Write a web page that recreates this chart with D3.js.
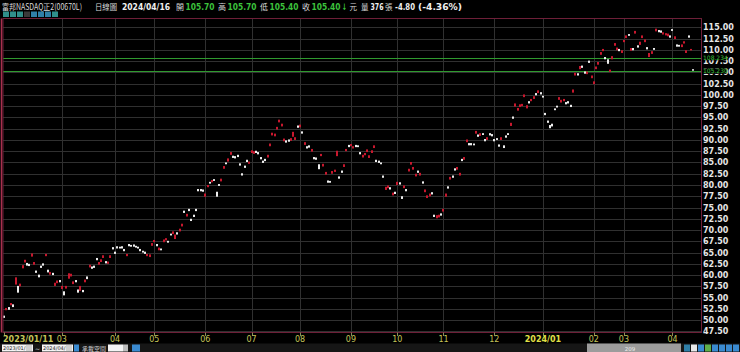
<!DOCTYPE html>
<html>
<head>
<meta charset="utf-8">
<script src="https://cdn.jsdelivr.net/npm/d3@7"></script>
<style>
html, body { margin: 0; padding: 0; background: #000; overflow: hidden; }
svg { display: block; }
</style>
</head>
<body>
<svg id="chart" width="740" height="352"></svg>
<script>
// daily candles 2023/01/11 .. 2024/04/16
var opens = [
  51.0,52.2,52.9,53.3,53.5,57.9,57.6,57.5,61.5,62.8,
  62.7,62.5,64.1,62.3,61.0,60.1,62.1,62.6,64.2,61.2,
  60.1,60.5,57.6,58.2,58.9,56.9,56.4,57.0,59.2,59.7,
  58.0,58.9,56.8,56.5,56.7,58.4,59.7,61.7,61.9,62.1,
  63.8,62.3,62.9,63.8,63.1,62.5,63.8,66.2,65.2,66.4,
  66.3,66.4,65.8,64.2,66.9,66.7,66.8,66.5,66.3,65.8,
  65.4,65.2,64.2,64.0,66.5,67.3,66.9,65.5,65.9,67.3,
  67.7,67.6,69.2,69.1,68.0,69.5,69.7,70.8,74.3,73.0,
  74.7,72.5,73.4,74.7,79.1,79.1,79.0,77.4,79.5,80.7,
  80.6,81.3,78.5,80.2,80.8,83.6,85.0,85.2,86.7,86.5,
  86.4,86.7,84.8,82.6,84.3,85.6,84.7,87.1,86.9,87.6,
  87.3,86.2,85.4,85.8,86.1,88.6,91.0,90.8,92.3,93.9,
  93.0,89.7,89.9,90.1,89.8,90.7,90.0,93.2,92.8,91.9,
  88.9,88.6,88.8,87.4,86.2,86.1,84.6,86.4,84.1,82.3,
  81.0,80.9,82.5,82.9,86.4,81.9,83.2,84.0,87.5,88.9,
  88.6,88.1,88.9,88.8,87.3,86.1,86.6,87.3,86.0,87.1,
  88.2,85.6,85.4,85.0,82.1,78.9,79.3,79.5,77.7,78.5,
  80.0,80.6,77.5,79.3,79.1,83.0,84.5,83.4,81.9,83.2,
  82.1,80.8,78.4,77.1,77.5,78.4,73.4,72.6,72.8,73.7,
  74.1,77.4,79.7,81.2,82.1,83.7,83.4,82.1,85.8,85.6,
  89.5,89.3,89.3,89.2,91.4,91.2,90.9,91.5,90.2,90.0,
  91.5,91.3,90.2,90.4,89.0,90.0,88.8,91.0,91.5,93.1,
  95.2,97.4,96.5,97.3,97.5,99.5,97.0,98.6,98.6,99.1,
  100.4,100.4,100.6,99.8,96.0,94.3,93.3,93.6,97.0,97.6,
  98.9,98.3,98.6,98.4,98.6,97.8,100.5,104.3,104.8,105.7,
  106.5,105.2,104.6,107.6,103.7,102.4,105.7,106.7,108.9,109.7,
  108.4,107.9,105.1,107.9,110.9,109.9,110.2,109.3,111.7,112.6,
  113.5,109.8,110.4,113.6,111.0,111.1,112.6,111.7,110.6,108.4,
  109.1,110.4,114.1,114.4,114.3,113.4,113.2,113.0,113.2,114.6,
  112.4,111.2,111.1,110.6,111.4,109.3,113.2,109.9,105.7
];
var closes = [
  50.5,52.7,52.3,53.8,52.9,59.5,56.1,58.1,62.2,63.4,
  62.1,62.0,64.8,62.9,60.5,59.5,61.6,62.1,64.7,60.6,
  60.7,60.0,58.3,58.8,58.4,57.6,55.5,57.6,60.4,60.3,
  58.6,58.4,56.1,57.6,56.2,59.0,59.1,62.3,61.4,61.6,
  63.3,62.9,63.5,64.4,62.6,63.0,64.4,65.7,64.7,65.9,
  65.9,65.9,65.3,64.7,66.4,66.3,66.3,66.1,65.9,65.3,
  65.0,64.7,64.7,64.6,67.1,67.8,66.4,66.1,65.5,67.9,
  68.2,67.2,68.8,69.7,69.0,69.0,70.3,71.4,73.8,73.6,
  74.2,72.0,72.9,74.2,78.6,78.6,78.5,78.1,80.0,80.3,
  81.1,80.9,77.4,79.8,81.4,84.2,84.6,85.9,87.3,86.0,
  85.9,86.2,84.3,82.1,83.8,85.1,85.2,87.7,87.5,87.1,
  86.8,85.7,84.9,85.3,86.7,89.2,91.6,91.4,92.9,94.5,
  93.6,90.3,89.4,89.6,90.4,91.8,90.6,92.7,93.4,91.4,
  89.5,88.1,88.3,88.0,85.7,85.6,83.5,86.9,84.7,82.9,
  80.5,80.5,83.1,83.4,87.6,81.4,82.7,84.6,88.0,88.4,
  89.1,88.6,88.4,88.4,86.8,86.7,87.1,87.9,86.6,87.7,
  88.8,85.1,84.9,84.6,81.6,79.6,79.9,79.0,78.3,78.0,
  80.7,80.1,76.9,79.9,78.6,83.6,85.1,84.0,82.5,82.7,
  82.7,80.3,79.0,77.7,78.1,77.9,72.9,73.3,73.4,73.2,
  74.7,78.1,79.2,81.8,81.6,83.2,84.0,82.7,85.3,86.2,
  90.1,88.8,88.8,88.8,92.0,90.7,91.5,91.1,89.7,90.6,
  91.0,90.8,89.7,90.0,88.5,90.6,88.2,90.5,91.1,93.8,
  94.7,98.1,97.1,97.9,98.0,100.1,97.7,98.1,99.1,99.7,
  99.9,101.0,100.1,99.4,95.5,93.8,92.6,93.0,96.6,97.2,
  99.5,98.9,99.1,97.9,98.1,97.3,101.2,104.9,104.3,106.4,
  106.0,104.7,105.2,107.1,104.3,103.0,106.3,107.3,109.5,110.2,
  107.9,106.9,105.6,108.6,111.5,110.5,109.7,109.9,112.2,113.2,
  113.1,110.4,109.9,114.2,110.5,111.8,113.2,112.3,110.1,109.3,
  109.7,110.0,114.7,113.9,113.8,113.9,113.7,113.6,112.7,114.2,
  113.0,110.7,110.7,111.2,111.9,109.9,112.7,110.2,105.4
];

// bar index where each month label sits
var tickIndex  = [0, 25, 48, 65, 87, 107, 128, 150, 170, 190, 212, 233, 255, 268, 289];
var tickLabels = ["2023/01/11","03","04","05","06","07","08","09","10","11","12","2024/01","02","03","04"];

var refLines  = [108.234, 105.230];

var stockName = "富邦NASDAQ正2(00670L)";
var chartType = "日線圖";
var quoteDate = "2024/04/16";
var quoteKeys = ["開", "高", "低", "收"];
var quoteVals = ["105.70", "105.70", "105.40", "105.40"];
var volume    = "376";
var change    = "-4.80";
var changePct = "(-4.36%)";
var fromDate  = "2023/01/11";
var toDate    = "2024/04/16";

var svg = d3.select("#chart");

var frame = {left: 3, right: 701.5, top: 18.5, bottom: 332.5};

var x = d3.scaleLinear().domain([0, closes.length - 1]).range([4, 693.3]);
var y = d3.scaleLinear().domain([47.5, 115]).range([331.4, 27.3]);

var gridVals = d3.range(47.5, 115.01, 2.5);
var fmt = d3.format(".2f");
var numFont = "'DejaVu Sans', Verdana, sans-serif";
var cjkFont = "'Noto Sans CJK TC', 'Noto Sans CJK SC', sans-serif";

svg.append("rect").attr("width", 740).attr("height", 352).attr("fill", "#000");

// ---- header ----
var head = svg.append("g").attr("class", "header");

function cjk(xp, txt, size) {
  return head.append("text").attr("x", xp).attr("y", 9.5)
    .attr("font-family", cjkFont).attr("font-size", size || 8.5).attr("fill", "#d8d8d8")
    .text(txt);
}
function num(xp, txt, w, color) {
  return head.append("text").attr("x", xp).attr("y", 9.5)
    .attr("font-family", numFont).attr("font-weight", "bold").attr("font-size", 9)
    .attr("fill", color)
    .attr("textLength", w).attr("lengthAdjust", "spacingAndGlyphs")
    .text(txt);
}

cjk(2, stockName, 8.5).attr("textLength", 80).attr("lengthAdjust", "spacingAndGlyphs");
cjk(95, chartType, 8).attr("textLength", 22).attr("lengthAdjust", "spacingAndGlyphs");
num(122, quoteDate, 48, "#f0f0f0");

var keyX = [176, 218, 260, 302];
quoteKeys.forEach(function (k, i) {
  cjk(keyX[i], k, 8);
  num(keyX[i] + 9.5, quoteVals[i], 29, "#3cc23c");
});
num(342, "↓", 5, "#3cc23c");
cjk(349.5, "元", 7.5);
cjk(361, "量", 7.5);
num(370.5, volume, 13, "#f0f0f0");
cjk(385, "張", 7.5);
num(395, change, 20, "#f0f0f0");
num(418, changePct, 44, "#f0f0f0");

// small tool buttons under the title
var btnColors = ["#2f8f8a", "#2f8f8a", "#2f8f8a", "#3a3a3a", "#2f7fa8", "#2f7fa8", "#2f7fa8", "#2f8f8a"];
head.selectAll("rect.btn").data(btnColors).enter().append("rect")
  .attr("class", "btn")
  .attr("x", function (d, i) { return 3 + i * 7; })
  .attr("y", 11.5).attr("width", 6).attr("height", 5.5)
  .attr("fill", function (d) { return d; });

// ---- grid ----
var grid = svg.append("g").attr("class", "grid");
grid.selectAll("line.h").data(gridVals).enter().append("line")
  .attr("x1", frame.left).attr("x2", frame.right)
  .attr("y1", function (d) { return Math.round(y(d)) + 0.5; })
  .attr("y2", function (d) { return Math.round(y(d)) + 0.5; })
  .attr("stroke", "#303030").attr("stroke-width", 1);
grid.selectAll("line.v").data(tickIndex.slice(1)).enter().append("line")
  .attr("x1", function (d) { return Math.round(x(d)) + 0.5; })
  .attr("x2", function (d) { return Math.round(x(d)) + 0.5; })
  .attr("y1", frame.top).attr("y2", frame.bottom)
  .attr("stroke", "#303030").attr("stroke-width", 1);

// reference lines
grid.selectAll("line.ref").data(refLines).enter().append("line")
  .attr("x1", frame.left).attr("x2", frame.right)
  .attr("y1", function (d) { return Math.round(y(d)) + 0.5; })
  .attr("y2", function (d) { return Math.round(y(d)) + 0.5; })
  .attr("stroke", "#2f9a2f").attr("stroke-width", 1);

// ---- candles ----
var bars = svg.append("g").attr("class", "candles");
bars.selectAll("rect").data(closes).enter().append("rect")
  .attr("x", function (d, i) { return Math.round(x(i)) - 1; })
  .attr("y", function (d, i) { return y(Math.max(d, opens[i])); })
  .attr("width", 2)
  .attr("height", function (d, i) { return Math.max(1.5, Math.abs(y(opens[i]) - y(d))); })
  .attr("fill", function (d, i) { return d >= opens[i] ? "#c8182e" : "#eeeeee"; });

// ---- frame ----
svg.append("rect")
  .attr("x", frame.left).attr("y", frame.top)
  .attr("width", frame.right - frame.left).attr("height", frame.bottom - frame.top)
  .attr("fill", "none").attr("stroke", "#6e1f38").attr("stroke-width", 1);
svg.append("line").attr("x1", 1.5).attr("x2", 1.5).attr("y1", frame.top).attr("y2", frame.bottom)
  .attr("stroke", "#a8304e").attr("stroke-width", 1.5);

// ---- y axis (right) ----
var yAxis = svg.append("g").attr("class", "y-axis");
yAxis.selectAll("text").data(gridVals).enter().append("text")
  .attr("x", 703).attr("y", function (d) { return y(d) + 3; })
  .attr("font-family", numFont).attr("font-weight", "bold").attr("font-size", 8)
  .attr("fill", "#e6e6e6")
  .text(function (d) { return fmt(d); });
// green price tags on the reference lines, drawn over the axis labels
var tags = yAxis.selectAll("g.ref").data(refLines).enter().append("g").attr("class", "ref");
tags.append("rect")
  .attr("x", 702.5).attr("y", function (d) { return y(d) - 3; })
  .attr("width", 24).attr("height", 5.5).attr("fill", "#000");
tags.append("text")
  .attr("x", 703).attr("y", function (d) { return y(d) + 2; })
  .attr("font-family", numFont).attr("font-size", 6)
  .attr("fill", "#3cc23c")
  .text(function (d) { return d3.format(".3f")(d); });

// ---- x axis (bottom) ----
var xAxis = svg.append("g").attr("class", "x-axis");
xAxis.selectAll("line").data(tickIndex).enter().append("line")
  .attr("x1", function (d) { return Math.round(x(d)) + 0.5; })
  .attr("x2", function (d) { return Math.round(x(d)) + 0.5; })
  .attr("y1", frame.bottom).attr("y2", frame.bottom + 3.5)
  .attr("stroke", "#8a8a5a").attr("stroke-width", 1);
xAxis.selectAll("text").data(tickIndex).enter().append("text")
  .attr("x", function (d, i) { return i === 0 ? 3 : x(d); })
  .attr("y", 341.5)
  .attr("text-anchor", function (d, i) { return i === 0 ? "start" : "middle"; })
  .attr("font-family", numFont)
  .attr("font-weight", function (d, i) { return tickLabels[i].length > 2 ? "bold" : "normal"; })
  .attr("font-size", 8)
  .attr("fill", function (d, i) { return tickLabels[i] === "2024/01" ? "#e0e048" : "#c4c45a"; })
  .text(function (d, i) { return tickLabels[i]; });

// ---- bottom control strip ----
var strip = svg.append("g").attr("class", "strip");
strip.append("rect").attr("x", 0).attr("y", 343.5).attr("width", 740).attr("height", 8.5).attr("fill", "#161616");
[[2, fromDate], [42, toDate]].forEach(function (b) {
  strip.append("rect").attr("x", b[0]).attr("y", 344.5).attr("width", 31).attr("height", 7).attr("fill", "#f4f4f4");
  strip.append("text").attr("x", b[0] + 1).attr("y", 350.3)
    .attr("font-family", numFont).attr("font-size", 5).attr("fill", "#222").text(b[1]);
  strip.append("rect").attr("x", b[0] + 24).attr("y", 345).attr("width", 6).attr("height", 6).attr("fill", "#d0d0d0");
});
strip.append("text").attr("x", 35).attr("y", 350.5).attr("font-family", numFont).attr("font-size", 6).attr("fill", "#ddd").text("~");
strip.append("rect").attr("x", 74).attr("y", 344.5).attr("width", 5).attr("height", 7).attr("fill", "#3a8ad0");
strip.append("text").attr("x", 82).attr("y", 350.8).attr("font-family", cjkFont).attr("font-size", 6).attr("fill", "#cfcfcf").text("承載空間");
strip.append("rect").attr("x", 108).attr("y", 344.5).attr("width", 15).attr("height", 7).attr("fill", "#f4f4f4");
strip.append("rect").attr("x", 123).attr("y", 344.5).attr("width", 5).attr("height", 7).attr("fill", "#bdbdbd");
strip.append("rect").attr("x", 132).attr("y", 344.5).attr("width", 8).attr("height", 7).attr("fill", "#3a8ad0");
strip.append("rect").attr("x", 587).attr("y", 343.5).attr("width", 94).attr("height", 8.5).attr("fill", "#9c9c9c");
strip.append("text").attr("x", 630).attr("y", 350.5).attr("text-anchor", "middle")
  .attr("font-family", numFont).attr("font-size", 5.5).attr("fill", "#eee").text(String(closes.length - 90));
var iconColors = ["#2f7fa8", "#e8e8e8", "#3a8ad0", "#5fae4a", "#3a8ad0", "#3a8ad0", "#3a8ad0", "#3a8ad0"];
strip.selectAll("rect.icon").data(iconColors).enter().append("rect")
  .attr("class", "icon")
  .attr("x", function (d, i) { return 684 + i * 7; })
  .attr("y", 344.5).attr("width", 6).attr("height", 7)
  .attr("fill", function (d) { return d; });
</script>
</body>
</html>
